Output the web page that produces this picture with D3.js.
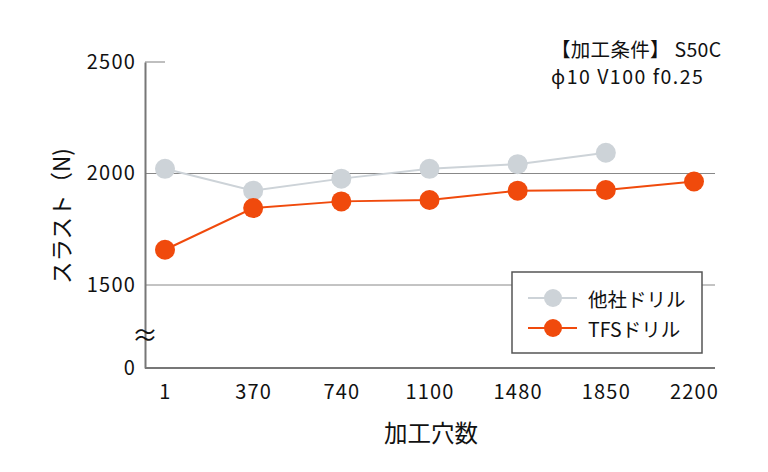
<!DOCTYPE html>
<html><head><meta charset="utf-8">
<script src="https://cdn.jsdelivr.net/npm/d3@7"></script>
<style>
html,body{margin:0;padding:0;background:#fff;}
text{font-family:"Noto Sans CJK JP","Noto Sans",sans-serif;fill:#111;}
</style></head>
<body><svg id="c" width="768" height="472"></svg>
<script>
const categories = ["1","370","740","1100","1480","1850","2200"];
const otherDrill = [2021, 1923, 1977, 2021, 2042, 2093, null];
const tfsDrill = [1658, 1845, 1875, 1881, 1923, 1926, 1964];
const yTicks = [0, 1500, 2000, 2500];
const seriesNames = ["他社ドリル", "TFSドリル"];
const colors = ["#cdd3d8", "#f04a0c"];
const yTitle = "スラスト（N)";
const xTitle = "加工穴数";
const noteLines = ["【加工条件】 S50C", "ϕ10 V100 f0.25"];

const svg = d3.select("#c");
const x = d3.scalePoint().domain(categories).range([165, 694]);
const y = d3.scaleLinear().domain([0, 1500, 2500]).range([368, 285, 62]);
const axisLeftX = 145, axisRightX = 715;

// gridlines
svg.append("g").selectAll("line").data([1500, 2000]).join("line")
  .attr("x1", axisLeftX).attr("x2", axisRightX)
  .attr("y1", d => y(d)).attr("y2", d => y(d))
  .attr("stroke", "#888").attr("stroke-width", 1);
// short tick at top
svg.append("line").attr("x1", axisLeftX).attr("x2", 165)
  .attr("y1", y(2500)).attr("y2", y(2500)).attr("stroke", "#aaa").attr("stroke-width", 1.5);

// y axis
const ya = svg.append("g").attr("transform", `translate(${axisLeftX},0)`)
  .call(d3.axisLeft(y).tickValues(yTicks).tickSize(0).tickPadding(9).tickFormat(d3.format("d")));
ya.select(".domain").attr("stroke", "#777").attr("stroke-width", 2);
ya.selectAll("text").style("font-size", "20px").style("letter-spacing", "1.2px").attr("fill", "#111");

// x axis
const xa = svg.append("g").attr("transform", `translate(0,${y(0)})`)
  .call(d3.axisBottom(x).tickSize(0).tickPadding(17));
xa.select(".domain").attr("d", `M${axisLeftX},0H${axisRightX}`).attr("stroke", "#777").attr("stroke-width", 2);
xa.selectAll("text").style("font-size", "20px").style("letter-spacing", "1.2px").attr("fill", "#111");

// break symbol
svg.append("text").attr("x", axisLeftX).attr("y", 333).attr("text-anchor", "middle")
  .attr("dominant-baseline", "central").style("font-size", "26px").text("≈");

// lines & points
const series = [otherDrill, tfsDrill];
series.forEach((vals, i) => {
  const pts = vals.map((v, j) => ({c: categories[j], v})).filter(d => d.v != null);
  svg.append("path").datum(pts)
    .attr("d", d3.line().x(d => x(d.c)).y(d => y(d.v)))
    .attr("fill", "none").attr("stroke", colors[i]).attr("stroke-width", 2);
  svg.append("g").selectAll("circle").data(pts).join("circle")
    .attr("cx", d => x(d.c)).attr("cy", d => y(d.v)).attr("r", 10).attr("fill", colors[i]);
});

// legend
const lg = svg.append("g");
lg.append("rect").attr("x", 512).attr("y", 272).attr("width", 190).attr("height", 81)
  .attr("fill", "#fff").attr("stroke", "#555").attr("stroke-width", 1.5);
seriesNames.forEach((n, i) => {
  const cy = 298 + i * 30;
  lg.append("line").attr("x1", 528).attr("x2", 577).attr("y1", cy).attr("y2", cy)
    .attr("stroke", colors[i]).attr("stroke-width", 2);
  lg.append("circle").attr("cx", 553).attr("cy", cy).attr("r", 9).attr("fill", colors[i]);
  lg.append("text").attr("x", 588).attr("y", cy).attr("dominant-baseline", "central")
    .style("font-size", "19.5px").text(n);
});

// titles
svg.append("text").attr("transform", "translate(60,216) rotate(-90)").attr("text-anchor", "middle")
  .attr("dominant-baseline", "central").style("font-size", "22.5px").text(yTitle);
svg.append("text").attr("x", 431).attr("y", 432).attr("text-anchor", "middle")
  .attr("dominant-baseline", "central").style("font-size", "23.5px").text(xTitle);

// note
noteLines.forEach((t, i) => {
  svg.append("text").attr("x", 551).attr("y", 57 + i * 27).style("font-size", "19.5px")
    .style("letter-spacing", i === 1 ? "1.5px" : "0.3px").text(t);
});
</script></body></html>
